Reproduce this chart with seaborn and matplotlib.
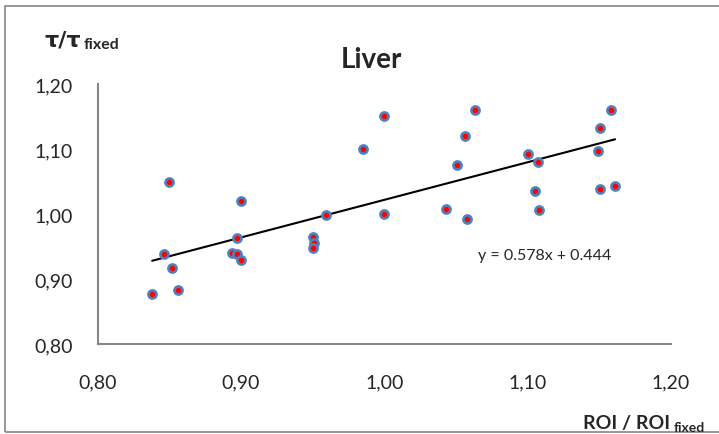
import matplotlib
matplotlib.use("Agg")
import matplotlib.pyplot as plt
import seaborn as sns
import numpy as np
import pandas as pd
from matplotlib.patches import Rectangle

# data
roi_ratio = [0.850, 0.900, 0.959, 0.985, 1.000, 1.0635, 1.056, 1.051, 1.1005, 1.107,
             1.105, 1.1077, 1.043, 1.058, 1.000, 1.158, 1.1507, 1.149, 1.1507, 1.161,
             0.838, 0.846, 0.852, 0.856, 0.897, 0.8935, 0.897, 0.900, 0.950, 0.951,
             0.9505]
tau_ratio = [1.050, 1.020, 0.999, 1.100, 1.151, 1.160, 1.120, 1.076, 1.092, 1.080,
             1.0355, 1.006, 1.008, 0.992, 1.000, 1.160, 1.133, 1.097, 1.0386, 1.043,
             0.878, 0.938, 0.918, 0.883, 0.964, 0.941, 0.938, 0.929, 0.965, 0.956,
             0.9475]
slope = 0.578
intercept = 0.444
x_ticks = [0.80, 0.90, 1.00, 1.10, 1.20]
x_tick_labels = ["0,80", "0,90", "1,00", "1,10", "1,20"]
y_ticks = [0.80, 0.90, 1.00, 1.10, 1.20]
y_tick_labels = ["0,80", "0,90", "1,00", "1,10", "1,20"]

df = pd.DataFrame({"roi": roi_ratio, "tau": tau_ratio})
trend_x = np.array([min(roi_ratio), max(roi_ratio)])
trend = pd.DataFrame({"roi": trend_x, "tau": slope * trend_x + intercept})

sns.set_style("white")
plt.rcParams["font.family"] = ["Lato", "DejaVu Sans"]

fig = plt.figure(figsize=(7.19, 4.35), dpi=100)
fig.patch.set_facecolor("white")
# outer chart border
fig.patches.append(Rectangle((5 / 719, 2 / 435), 1.2, (435 - 9) / 435, transform=fig.transFigure,
                             fill=False, edgecolor="#868686", linewidth=1.2))

ax = fig.add_axes([97.7 / 719, 1 - 345.3 / 435, (671 - 97.7) / 719, (345.3 - 85) / 435])

sns.lineplot(data=trend, x="roi", y="tau", ax=ax, color="black", linewidth=1.5)
sns.scatterplot(data=df, x="roi", y="tau", ax=ax, color="#FF0000", edgecolor="#4F81BD",
                linewidth=1.9, s=34, zorder=3)

ax.set_xlim(0.80, 1.20)
ax.set_ylim(0.80, 1.20)
ax.set_xticks(x_ticks)
ax.set_xticklabels(x_tick_labels, fontsize=14)
ax.set_yticks(y_ticks)
ax.set_yticklabels(y_tick_labels, fontsize=14)
ax.tick_params(axis="both", length=5, width=1.2, color="#868686", direction="out")
ax.tick_params(axis="y", pad=13)
ax.tick_params(axis="x", pad=16)
ax.set_xlabel("")
ax.set_ylabel("")
for side in ["top", "right"]:
    ax.spines[side].set_visible(False)
for side in ["left", "bottom"]:
    ax.spines[side].set_color("#868686")
    ax.spines[side].set_linewidth(1.5)
ax.grid(False)

fig.text(371 / 719, 1 - 60 / 435, "Liver", ha="center", va="center", fontsize=20, fontweight="bold")
fig.text(545 / 719, 1 - 256 / 435, f"y = {slope:.3f}x + {intercept:.3f}", ha="center", va="center",
         fontsize=11.5)

# axis labels drawn like the original (with subscripts)
fig.text(81 / 719, 1 - 46 / 435, "τ/τ", ha="right", va="baseline", fontsize=16, fontweight="bold",
         family=["DejaVu Sans"])
fig.text(84 / 719, 1 - 49 / 435, "fixed", ha="left", va="baseline", fontsize=11.5, fontweight="bold")
fig.text(670 / 719, 1 - 429 / 435, "ROI / ROI", ha="right", va="baseline", fontsize=14, fontweight="bold")
fig.text(674 / 719, 1 - 432 / 435, "fixed", ha="left", va="baseline", fontsize=10, fontweight="bold")

fig.savefig("out.png", dpi=100)
